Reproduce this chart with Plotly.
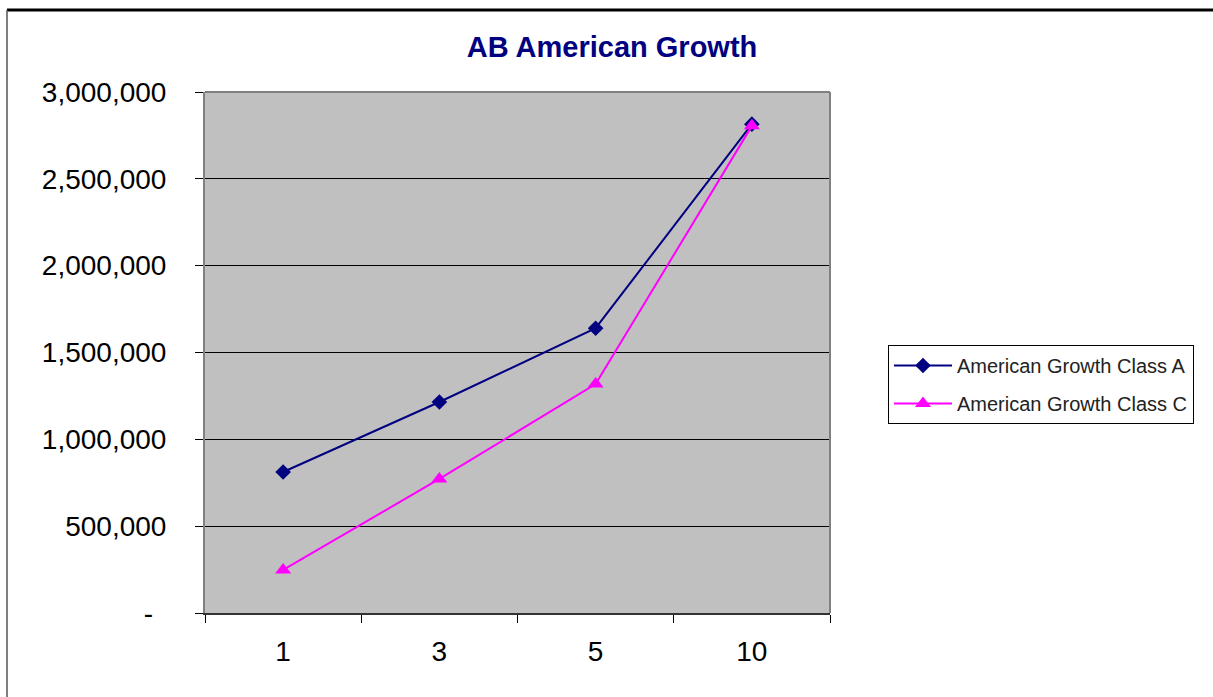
import plotly.graph_objects as go

periods = ["1", "3", "5", "10"]
class_a = [812000, 1215000, 1640000, 2815000]
class_c = [248000, 772000, 1318000, 2805000]
y_tickvals = [0, 500000, 1000000, 1500000, 2000000, 2500000, 3000000]
y_ticktext = ["-\u00a0\u2009", "500,000", "1,000,000", "1,500,000", "2,000,000", "2,500,000", "3,000,000"]

W, H = 1213, 697
L, R, T, B = 205, 383, 92, 84
pw, ph = W - L - R, H - T - B

def px(p):
    return (p - L) / pw

def py(q):
    return (H - B - q) / ph

FONT = "Liberation Sans, Arial, sans-serif"

fig = go.Figure()
fig.add_trace(go.Scatter(
    x=periods, y=class_a, name="American Growth Class A", mode="lines+markers",
    legendgroup="a",
    line=dict(color="#000080", width=2),
    marker=dict(symbol="diamond", size=12, color="#000080"),
))
fig.add_trace(go.Scatter(
    x=periods, y=class_c, name="American Growth Class C", mode="lines+markers",
    legendgroup="c",
    line=dict(color="#FF00FF", width=2),
    marker=dict(symbol="triangle-up", size=14, color="#FF00FF"),
))

fig.update_layout(
    width=W, height=H,
    margin=dict(l=L, r=R, t=T, b=B),
    paper_bgcolor="white", plot_bgcolor="#C0C0C0",
    font=dict(family=FONT, color="black"),
    title=dict(text="<b>AB American Growth</b>", x=612 / W, xref="container",
               y=1 - 47 / H, yref="container", xanchor="center", yanchor="middle",
               font=dict(size=29, color="#000080", family=FONT)),
    showlegend=True,
    legend=dict(x=px(888), y=py(345), xanchor="left", yanchor="top",
                bgcolor="white", bordercolor="black", borderwidth=1,
                itemwidth=58, tracegroupgap=9, traceorder="grouped",
                font=dict(size=20, color="#222222", family=FONT)),
    xaxis=dict(type="category", range=[-0.5, 3.5], tickson="boundaries",
               ticks="outside", ticklen=8, tickcolor="black", tickwidth=1,
               showline=True, linecolor="#333333", linewidth=2, showgrid=False,
               zeroline=False, tickfont=dict(size=28, color="black"),
               ticklabelstandoff=12),
    yaxis=dict(range=[0, 3000000], tickvals=y_tickvals, ticktext=y_ticktext,
               ticks="outside", ticklen=8, tickcolor="black", tickwidth=1,
               showline=True, linecolor="#808080", linewidth=2,
               showgrid=True, gridcolor="black", gridwidth=1, zeroline=False,
               tickfont=dict(size=28, color="black"), ticklabelstandoff=23),
    shapes=[
        dict(type="line", xref="paper", yref="paper", x0=0, x1=1, y0=1, y1=1,
             line=dict(color="#808080", width=2), layer="above"),
        dict(type="line", xref="paper", yref="paper", x0=1, x1=1, y0=0, y1=1,
             line=dict(color="#808080", width=2), layer="above"),
        dict(type="line", xref="paper", yref="paper", x0=px(7), x1=px(W + 5), y0=py(10), y1=py(10),
             line=dict(color="black", width=3), layer="above"),
        dict(type="line", xref="paper", yref="paper", x0=px(7), x1=px(7), y0=py(10), y1=py(H + 5),
             line=dict(color="#555555", width=1.5), layer="above"),
    ],
)

fig.write_html("out.html")
